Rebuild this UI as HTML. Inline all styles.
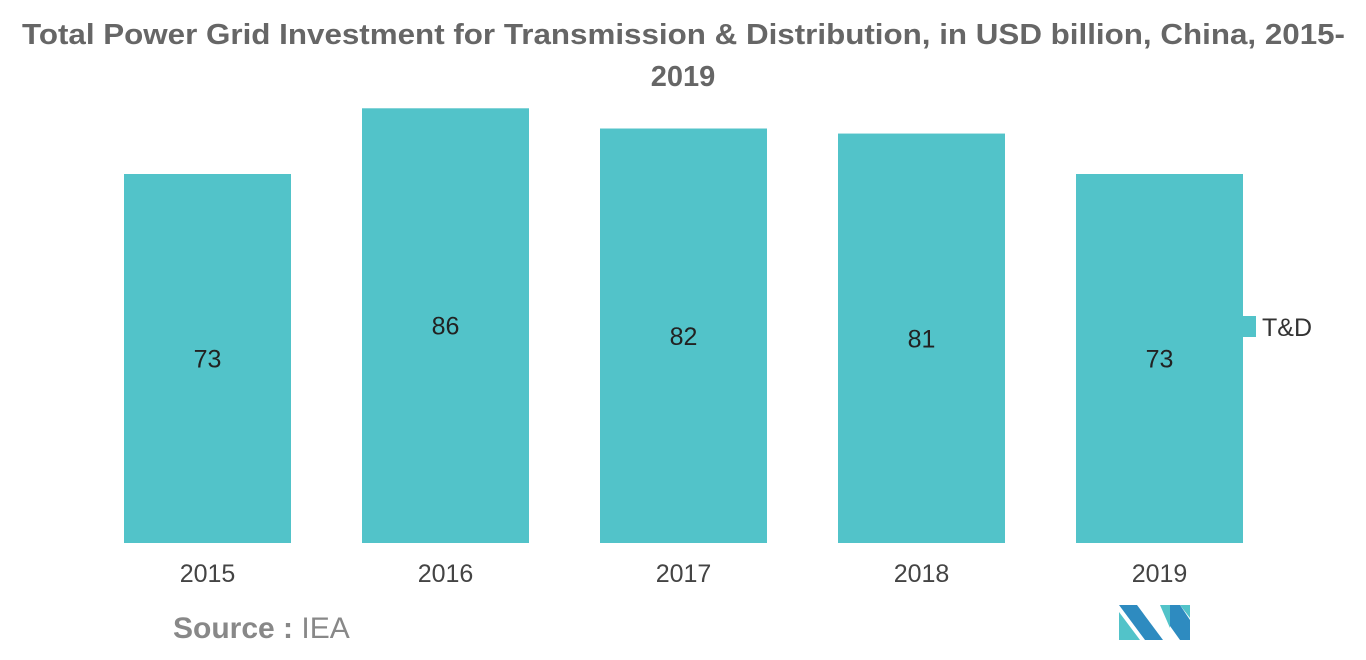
<!DOCTYPE html>
<html><head><meta charset="utf-8"><style>
body{margin:0;width:1366px;height:655px;background:#fff;overflow:hidden;font-family:"Liberation Sans",sans-serif}
</style></head><body>
<svg width="1366" height="655">
<text x="22" y="44" font-size="29" font-weight="bold" fill="#666" textLength="1323" lengthAdjust="spacingAndGlyphs">Total Power Grid Investment for Transmission &amp; Distribution, in USD billion, China, 2015-</text>
<text x="683" y="86" text-anchor="middle" font-size="29" font-weight="bold" fill="#666">2019</text>
<g id="bars"></g>
<rect x="1243" y="316" width="13" height="21" fill="#52c3c9"/>
<text x="1262" y="336" font-size="25" fill="#333">T&amp;D</text>
<text x="173" y="638" font-size="30" fill="#888"><tspan font-weight="bold">Source :</tspan> IEA</text>
<g>
<polygon points="1119,605 1137,605 1163,640 1145,640" fill="#2e8bc0"/>
<polygon points="1119,612 1140,640 1119,640" fill="#52c3c9"/>
<polygon points="1160,605 1170,605 1170,628" fill="#52c3c9"/>
<polygon points="1170,605 1180,605 1190,620 1190,640 1180,640 1170,626" fill="#2e8bc0"/>
<polygon points="1180,605 1190,605 1190,618" fill="#52c3c9"/>
</g>
</svg>
<script>
const categories=["2015","2016","2017","2018","2019"];
const values=[73,86,82,81,73];
const g=document.getElementById('bars');
const ns='http://www.w3.org/2000/svg';
const base=543, scale=369/73, x0=124, step=238, bw=167;
function y(v){return base-v*scale;}
categories.forEach((c,i)=>{
  const x=x0+i*step;
  const r=document.createElementNS(ns,'rect');
  
  
  r.setAttribute('x',x);r.setAttribute('y',y(values[i]));
  r.setAttribute('width',bw);r.setAttribute('height',base-y(values[i]));
  r.setAttribute('fill','#52c3c9');g.appendChild(r);
  const t=document.createElementNS(ns,'text');
  
  
  t.setAttribute('x',x+bw/2);t.setAttribute('y',(y(values[i])+base)/2+9);
  t.setAttribute('text-anchor','middle');t.setAttribute('font-size','25');t.setAttribute('fill','#222');
  t.textContent=values[i];g.appendChild(t);
  const l=document.createElementNS(ns,'text');
  
  
  l.setAttribute('x',x+bw/2);l.setAttribute('y',582);
  l.setAttribute('text-anchor','middle');l.setAttribute('font-size','25');l.setAttribute('fill','#444');
  l.textContent=c;g.appendChild(l);
});
</script>
</body></html>
